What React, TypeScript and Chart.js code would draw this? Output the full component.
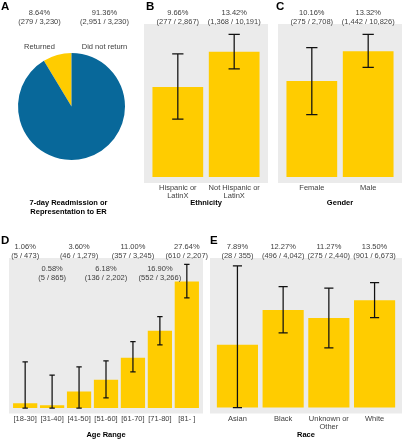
import React, { useEffect, useRef } from 'react';
import { Chart, registerables } from 'chart.js';

Chart.register(...registerables);

const FONT = '"Liberation Sans", Arial, Helvetica, sans-serif';
const YELLOW = '#FFCC00';
const BLUE = '#08689A';
const PANEL_GREY = '#EBEBEB';
const TEXT = '#404040';
const W = 405;
const H = 440;

// Panel A: 7-day readmission or representation to ER
const outcomeLabels = ['Returned', 'Did not return'];
const outcomePct = [8.64, 91.36];
const outcomeCounts = [279, 2951];
const outcomeTotals = [3230, 3230];

// Panel B: Ethnicity
const ethnicityLabels = [['Hispanic or', 'LatinX'], ['Not Hispanic or', 'LatinX']];
const ethnicityPct = [9.66, 13.42];
const ethnicityCounts = [277, 1368];
const ethnicityTotals = [2867, 10191];
const ethnicityLow = [6.2, 11.6];
const ethnicityHigh = [13.2, 15.3];

// Panel C: Gender
const genderLabels = ['Female', 'Male'];
const genderPct = [10.16, 13.32];
const genderCounts = [275, 1442];
const genderTotals = [2708, 10826];
const genderLow = [6.6, 11.6];
const genderHigh = [13.7, 15.1];

// Panel D: Age range
const ageLabels = ['[18-30]', '[31-40]', '[41-50]', '[51-60]', '[61-70]', '[71-80]', '[81- ]'];
const agePct = [1.06, 0.58, 3.6, 6.18, 11.0, 16.9, 27.64];
const ageCounts = [5, 5, 46, 136, 357, 552, 610];
const ageTotals = [473, 865, 1279, 2202, 3245, 3266, 2207];
const ageLow = [0, 0, 0, 2.2, 7.9, 13.8, 24.1];
const ageHigh = [10.1, 7.2, 9.0, 10.3, 14.5, 20.0, 31.4];

// Panel E: Race
const raceLabels = ['Asian', 'Black', ['Unknown or', 'Other'], 'White'];
const racePct = [7.89, 12.27, 11.27, 13.5];
const raceCounts = [28, 496, 275, 901];
const raceTotals = [355, 4042, 2440, 6673];
const raceLow = [0, 9.4, 7.5, 11.3];
const raceHigh = [17.8, 15.2, 15.0, 15.7];

const fmt = (n: number) => n.toLocaleString('en-US');

type BarCfg = {
  letter: string;
  letterX: number;
  letterY: number;
  title: string;
  labels: any[];
  pct: number[];
  counts: number[];
  totals: number[];
  low: number[];
  high: number[];
  left: number;
  right: number;
  top: number;
  bottom: number;
  titleY: number;
  yMin: number;
  yMax: number;
  stagger: boolean;
};

function makeBarChart(canvas: HTMLCanvasElement, cfg: BarCfg) {
  const n = cfg.labels.length;
  const u = (cfg.right - cfg.left) / (n + 0.2);
  const titleBottom = cfg.titleY + 4.5;
  const axisH = titleBottom - cfg.bottom;
  const plugin = {
    id: 'panel' + cfg.letter,
    beforeDraw(chart: any) {
      const { ctx, chartArea: a } = chart;
      ctx.save();
      ctx.fillStyle = PANEL_GREY;
      ctx.fillRect(cfg.left, a.top, cfg.right - cfg.left, a.bottom - a.top);
      ctx.restore();
    },
    afterDatasetsDraw(chart: any) {
      const { ctx, chartArea: a, scales } = chart;
      const xs = scales.x;
      const ys = scales.y;
      const slot = (a.right - a.left) / n;
      ctx.save();
      ctx.strokeStyle = '#111111';
      ctx.lineWidth = 1.25;
      for (let i = 0; i < n; i++) {
        const x = xs.getPixelForValue(i);
        const t = ys.getPixelForValue(cfg.high[i]);
        const b = ys.getPixelForValue(cfg.low[i]);
        const w = 0.1 * slot;
        ctx.beginPath();
        ctx.moveTo(x, t);
        ctx.lineTo(x, b);
        ctx.moveTo(x - w, t);
        ctx.lineTo(x + w, t);
        ctx.moveTo(x - w, b);
        ctx.lineTo(x + w, b);
        ctx.stroke();
      }
      ctx.font = `7.5px ${FONT}`;
      ctx.fillStyle = TEXT;
      ctx.textAlign = 'center';
      ctx.textBaseline = 'middle';
      for (let i = 0; i < n; i++) {
        const x = xs.getPixelForValue(i);
        const row = cfg.stagger && i % 2 === 1 ? 22 : 0;
        ctx.fillText(cfg.pct[i].toFixed(2) + '%', x, a.top - 11.5 + row);
        ctx.fillText(`(${fmt(cfg.counts[i])} / ${fmt(cfg.totals[i])})`, x, a.top - 2.5 + row);
      }
      ctx.font = `bold 11.5px ${FONT}`;
      ctx.fillStyle = '#000';
      ctx.textAlign = 'left';
      ctx.textBaseline = 'alphabetic';
      ctx.fillText(cfg.letter, cfg.letterX, cfg.letterY);
      ctx.restore();
    },
  };
  return new Chart(canvas, {
    type: 'bar',
    data: {
      labels: cfg.labels,
      datasets: [
        {
          data: cfg.pct,
          backgroundColor: YELLOW,
          borderWidth: 0,
          categoryPercentage: 1,
          barPercentage: 0.9,
        },
      ],
    },
    options: {
      animation: false,
      responsive: false,
      devicePixelRatio: 1,
      events: [],
      layout: {
        padding: {
          left: cfg.left + 0.1 * u,
          right: W - (cfg.right - 0.1 * u),
          top: cfg.top,
          bottom: H - titleBottom,
        },
      },
      plugins: {
        legend: { display: false },
        tooltip: { enabled: false },
      },
      scales: {
        x: {
          grid: { display: false, drawTicks: false },
          border: { display: false },
          ticks: {
            font: { family: FONT, size: 7.5, lineHeight: 1.07 },
            color: TEXT,
            padding: 1,
            autoSkip: false,
            maxRotation: 0,
            minRotation: 0,
          },
          title: {
            display: true,
            text: cfg.title,
            font: { family: FONT, size: 7.5, weight: 'bold', lineHeight: 1.2 },
            color: '#000',
            padding: 0,
          },
          afterFit: (s: any) => {
            s.height = axisH;
          },
        },
        y: { display: false, min: cfg.yMin, max: cfg.yMax },
      },
    } as any,
    plugins: [plugin],
  });
}

function makePie(canvas: HTMLCanvasElement) {
  const plugin = {
    id: 'pieText',
    afterDatasetsDraw(chart: any) {
      const { ctx } = chart;
      ctx.save();
      ctx.font = `7.5px ${FONT}`;
      ctx.fillStyle = TEXT;
      ctx.textAlign = 'center';
      ctx.textBaseline = 'middle';
      const xs = [39.5, 104.5];
      for (let i = 0; i < 2; i++) {
        ctx.fillText(outcomePct[i].toFixed(2) + '%', xs[i], 12.5);
        ctx.fillText(`(${fmt(outcomeCounts[i])} / ${fmt(outcomeTotals[i])})`, xs[i], 21.5);
        ctx.fillText(outcomeLabels[i], xs[i], 47);
      }
      ctx.fillStyle = '#000';
      ctx.font = `bold 7.5px ${FONT}`;
      ctx.fillText('7-day Readmission or', 68.5, 203);
      ctx.fillText('Representation to ER', 68.5, 212);
      ctx.font = `bold 11.5px ${FONT}`;
      ctx.textAlign = 'left';
      ctx.textBaseline = 'alphabetic';
      ctx.fillText('A', 1, 10);
      ctx.restore();
    },
  };
  return new Chart(canvas, {
    type: 'pie',
    data: {
      labels: outcomeLabels,
      datasets: [
        {
          data: outcomePct,
          backgroundColor: [YELLOW, BLUE],
          borderWidth: 0,
        },
      ],
    },
    options: {
      animation: false,
      responsive: false,
      devicePixelRatio: 1,
      events: [],
      rotation: -(outcomePct[0] / 100) * 360,
      layout: { padding: { left: 18, top: 53, right: W - 125, bottom: H - 160 } },
      plugins: { legend: { display: false }, tooltip: { enabled: false } },
    } as any,
    plugins: [plugin],
  });
}

const barConfigs: BarCfg[] = [
  {
    letter: 'B', letterX: 146, letterY: 10, title: 'Ethnicity',
    labels: ethnicityLabels, pct: ethnicityPct, counts: ethnicityCounts, totals: ethnicityTotals,
    low: ethnicityLow, high: ethnicityHigh,
    left: 144, right: 268, top: 24, bottom: 183, titleY: 202.5, yMin: -0.64, yMax: 16.4, stagger: false,
  },
  {
    letter: 'C', letterX: 276, letterY: 10, title: 'Gender',
    labels: genderLabels, pct: genderPct, counts: genderCounts, totals: genderTotals,
    low: genderLow, high: genderHigh,
    left: 278, right: 402, top: 24, bottom: 183, titleY: 202.5, yMin: -0.63, yMax: 16.2, stagger: false,
  },
  {
    letter: 'D', letterX: 1, letterY: 244, title: 'Age Range',
    labels: ageLabels, pct: agePct, counts: ageCounts, totals: ageTotals,
    low: ageLow, high: ageHigh,
    left: 9, right: 203, top: 258, bottom: 413.5, titleY: 435, yMin: -1.2, yMax: 32.8, stagger: true,
  },
  {
    letter: 'E', letterX: 210, letterY: 244, title: 'Race',
    labels: raceLabels, pct: racePct, counts: raceCounts, totals: raceTotals,
    low: raceLow, high: raceHigh,
    left: 210, right: 402, top: 258, bottom: 413.5, titleY: 435, yMin: -0.75, yMax: 18.8, stagger: false,
  },
];

export default function App() {
  const pieRef = useRef<HTMLCanvasElement | null>(null);
  const barRefs = useRef<(HTMLCanvasElement | null)[]>([]);

  useEffect(() => {
    const charts: Chart[] = [];
    if (pieRef.current) charts.push(makePie(pieRef.current));
    barConfigs.forEach((cfg, i) => {
      const c = barRefs.current[i];
      if (c) charts.push(makeBarChart(c, cfg));
    });
    return () => charts.forEach((c) => c.destroy());
  }, []);

  const style: React.CSSProperties = { position: 'absolute', left: 0, top: 0, width: W, height: H };
  return (
    <div style={{ position: 'fixed', left: 0, top: 0, width: W, height: H, background: '#fff', overflow: 'hidden' }}>
      <canvas ref={pieRef} width={W} height={H} style={style} />
      {barConfigs.map((cfg, i) => (
        <canvas
          key={cfg.letter}
          ref={(el) => {
            barRefs.current[i] = el;
          }}
          width={W}
          height={H}
          style={style}
        />
      ))}
    </div>
  );
}
